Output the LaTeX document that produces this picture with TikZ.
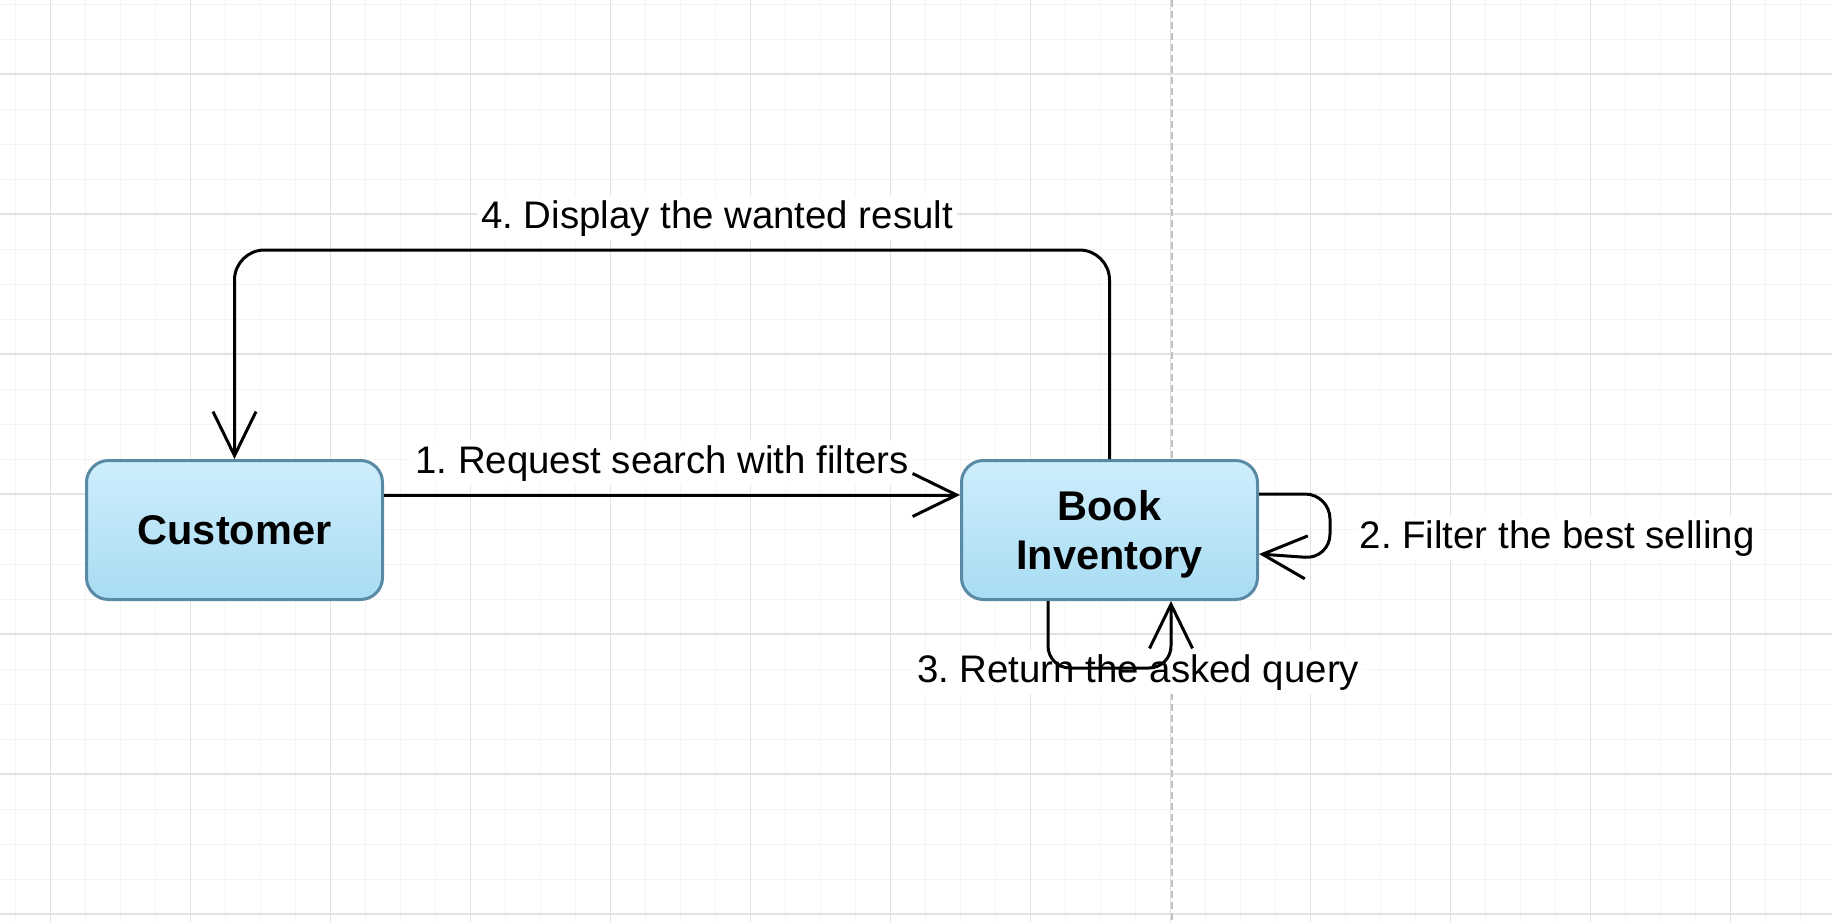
\documentclass[tikz,border=0pt]{standalone}
\usepackage{fontspec}
\setmainfont{Liberation Sans}
\usetikzlibrary{positioning, arrows.meta, calc}
\definecolor{gridminor}{RGB}{244,244,244}
\definecolor{gridmajor}{RGB}{226,226,226}
\definecolor{pageline}{RGB}{192,192,192}
\definecolor{boxtop}{RGB}{206,238,252}
\definecolor{boxbottom}{RGB}{168,220,243}
\definecolor{boxborder}{RGB}{88,138,165}
\frenchspacing

\tikzset{
    actor/.style={draw=boxborder, line width=3pt, rounded corners=22pt,
        top color=boxtop, bottom color=boxbottom,
        minimum width=296pt, minimum height=139pt,
        align=center, text depth=0pt,
        font=\fontsize{41.5}{48.3}\selectfont\bfseries},
    msg/.style={fill=white, inner sep=4pt, font=\fontsize{38.4}{46}\selectfont},
    flow/.style={line width=3pt, -{Straight Barb[length=44pt, width=43pt]}},
}

\begin{document}
\begin{tikzpicture}[x=1pt, y=-1pt]
    \useasboundingbox (0,0) rectangle (1832,922);

    % Grid
    \foreach \i in {0,...,51} {
        \draw[gridminor, line width=1pt] (15.7+35*\i,0) -- (15.7+35*\i,922);
    }
    \foreach \i in {0,...,26} {
        \draw[gridminor, line width=1pt] (0,4+35*\i) -- (1832,4+35*\i);
    }
    \foreach \i in {0,...,12} {
        \draw[gridmajor, line width=1.2pt] (50.7+140*\i,0) -- (50.7+140*\i,922);
    }
    \foreach \i in {0,...,6} {
        \draw[gridmajor, line width=1.2pt] (0,74+140*\i) -- (1832,74+140*\i);
    }
    \draw[pageline, line width=1.3pt, dash pattern=on 7pt off 4pt] (1172,0) -- (1172,922);

    % Labels
    \node[msg, anchor=base] (request) at (662,473) {1. Request search with filters};
    \node[msg, anchor=base west] (filter) at (1355.5,548) {2. Filter the best selling};
    \node[msg, anchor=base west] (query) at (913,682) {3. Return the asked query};
    \node[msg, anchor=base] (display) at (717,228) {4. Display the wanted result};

    % Boxes
    \node[actor] (customer) at (234.5,530) {Customer};
    \node[actor] (inventory) at (1109.5,530) {Book\\Inventory};

    % Connections
    \draw[flow] ($(customer.east)+(0,-35)$) -- ($(inventory.west)+(0,-35)$);
    \draw[flow, rounded corners=25pt] ($(inventory.east)+(0,-36)$) -- ++(71,0)
        -- ++(0,65) -- ($(inventory.east)+(0,24)$);
    \draw[flow, rounded corners=22pt] ($(inventory.south)+(-61.5,0)$) -- ++(0,67)
        -- ++(123,0) -- ($(inventory.south)+(61.5,0)$);
    \coordinate (top) at (0,250);
    \draw[flow, rounded corners=30pt] (inventory.north) -- (inventory.north |- top)
        -- (customer.north |- top) -- (customer.north);
\end{tikzpicture}
\end{document}
